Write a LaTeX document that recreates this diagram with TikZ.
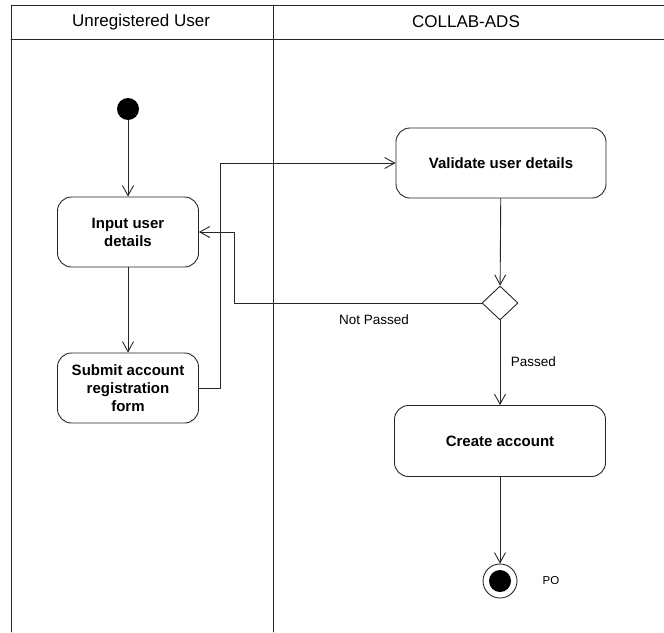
\documentclass[tikz,border=0pt]{standalone}
\usepackage{fontspec}
\setmainfont{Liberation Sans}
\usetikzlibrary{shapes.geometric,arrows.meta}
\begin{document}
\begin{tikzpicture}[x=1pt, y=-1pt, line join=round, line cap=round, line width=0.9pt, draw=black!85, >={Straight Barb[length=10pt,width=11pt]},
	act/.style={draw, rounded corners=14pt, align=center, inner sep=0pt, font=\fontsize{15}{18}\selectfont\bfseries},
	lbl/.style={font=\fontsize{13.5}{15}\selectfont}]
	\useasboundingbox (0,0) rectangle (664,632);
	% swimlanes
	\draw (664,5)--(11,5)--(11,632) (11,39)--(664,39) (273,5)--(273,632);
	\node[font=\fontsize{17}{19}\selectfont] (laneuser) at (141,22) {Unregistered User};
	\node[font=\fontsize{17}{19}\selectfont] (lanesys) at (466,22) {COLLAB-ADS};
	% actions
	\node[circle, fill, minimum size=22pt, inner sep=0pt] (start) at (128,109) {};
	\node[act, minimum width=141pt, minimum height=70pt] (input) at (128,232) {Input user\\details};
	\node[act, minimum width=141pt, minimum height=70pt] (submit) at (128,388) {Submit account\\registration\\form};
	\node[act, minimum width=210pt, minimum height=70pt] (validate) at (501,163) {Validate user details};
	\node[diamond, draw, minimum width=36pt, minimum height=34pt, inner sep=0pt] (check) at (500,303) {};
	\node[act, minimum width=211pt, minimum height=71pt] (create) at (500,441) {Create account};
	\node[circle, draw, minimum size=34pt, inner sep=0pt] (fin) at (500,581) {};
	\node[circle, fill, minimum size=22pt, inner sep=0pt] (findot) at (fin) {};
	% labels
	\node[lbl] (notpassed) at (374,320) {Not Passed};
	\node[lbl, anchor=west] (passed) at (507,362) {Passed};
	\node[lbl, font=\fontsize{11.5}{13}\selectfont] (po) at (551,581) {PO};
	% flows
	\draw[->] (start) -- (input);
	\draw[->] (input) -- (submit);
	\draw[->] (submit.east) -- ++(21,0) |- (validate.west);
	\draw[->] (validate) -- (check);
	\draw[->] (check.west) -| ([xshift=35pt]input.east) -- (input.east);
	\draw[->] (check) -- (create);
	\draw[->] (create) -- (fin);
\end{tikzpicture}
\end{document}
